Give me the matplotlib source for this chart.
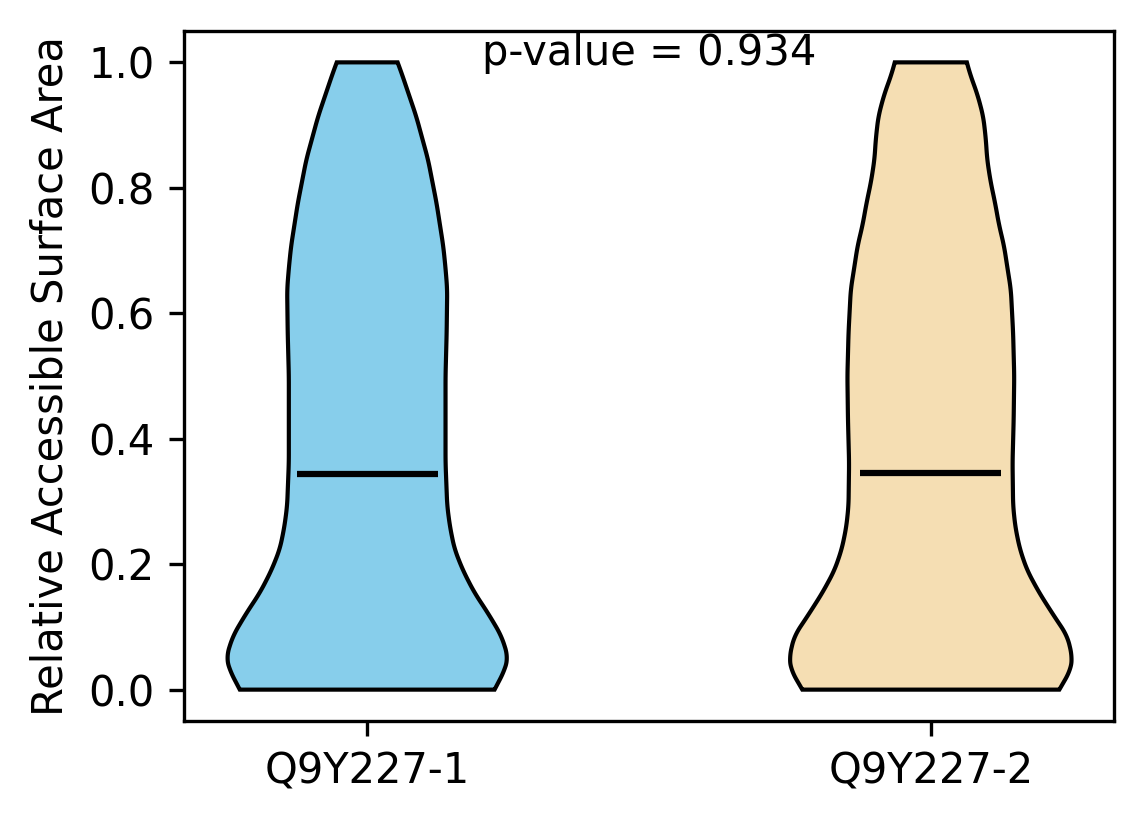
import numpy as np
import matplotlib
matplotlib.use("Agg")
import matplotlib.pyplot as plt

# isoform names and group means
labels = ["Q9Y227-1", "Q9Y227-2"]
means = [0.344, 0.346]
p_value = 0.934

# violin outlines: y levels and half widths (x units)
y1 = [0.0, 0.031, 0.052, 0.086, 0.121, 0.155, 0.19, 0.224, 0.259, 0.293,
      0.362, 0.431, 0.5, 0.569, 0.638, 0.672, 0.707, 0.776, 0.845, 0.914,
      0.983, 1.0]
w1 = [0.226, 0.244, 0.25, 0.238, 0.215, 0.19, 0.17, 0.155, 0.147, 0.142,
      0.139, 0.139, 0.139, 0.141, 0.142, 0.139, 0.135, 0.123, 0.108, 0.087,
      0.061, 0.054]

y2 = [0.0, 0.031, 0.052, 0.086, 0.121, 0.155, 0.19, 0.224, 0.259, 0.293,
      0.362, 0.431, 0.5, 0.569, 0.638, 0.672, 0.707, 0.741, 0.776, 0.81,
      0.845, 0.879, 0.914, 0.948, 0.983, 1.0]
w2 = [0.228, 0.248, 0.251, 0.242, 0.216, 0.192, 0.171, 0.158, 0.15, 0.146,
      0.145, 0.147, 0.148, 0.146, 0.142, 0.136, 0.13, 0.121, 0.114, 0.106,
      0.1, 0.0975, 0.093, 0.083, 0.069, 0.064]

colors = ["skyblue", "wheat"]


def smooth_outline(ys, ws, n=500, k=15):
    # resample the read-off outline and soften the corners
    yy = np.linspace(ys[0], ys[-1], n)
    ww = np.interp(yy, ys, ws)
    half = k // 2
    pad = np.concatenate([2 * ww[0] - ww[half:0:-1], ww,
                          2 * ww[-1] - ww[-2:-half - 2:-1]])
    ww = np.convolve(pad, np.ones(k) / k, mode="valid")
    return yy, ww


fig = plt.figure(figsize=(1144 / 300, 824 / 300), dpi=300)
ax = fig.add_axes([184 / 1144, 1 - 721 / 824, 930 / 1144, 690 / 824])

for i, (ys, ws) in enumerate([(y1, w1), (y2, w2)]):
    pos = i + 1
    yy, ww = smooth_outline(ys, ws)
    xs = np.concatenate([pos - ww, (pos + ww)[::-1]])
    yv = np.concatenate([yy, yy[::-1]])
    ax.fill(xs, yv, facecolor=colors[i], edgecolor="black", linewidth=1, alpha=1)
    ax.hlines(means[i], pos - 0.125, pos + 0.125, color="black", linewidth=1.5)

ax.set_xlim(0.675, 2.325)
ax.set_ylim(-0.05, 1.05)
ax.set_xticks([1, 2])
ax.set_xticklabels(labels)
ax.set_yticks([0.0, 0.2, 0.4, 0.6, 0.8, 1.0])
ax.set_ylabel("Relative Accessible Surface Area")
ax.text(1.5, 1.015, f"p-value = {p_value}", ha="center", va="center")

fig.savefig("out.png", dpi=300)
